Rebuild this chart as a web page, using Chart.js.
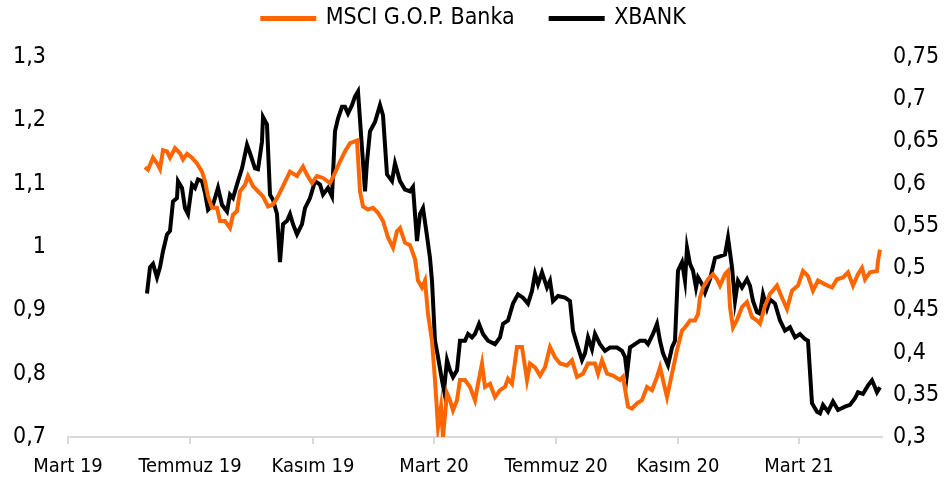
<!DOCTYPE html>
<html>
<head>
<meta charset="utf-8">
<script src="https://cdn.jsdelivr.net/npm/chart.js@4/dist/chart.umd.min.js"></script>
<style>
  html, body { margin: 0; padding: 0; background: #fff; }
  #wrap { width: 948px; height: 481px; }
</style>
</head>
<body>
<div id="wrap"><canvas id="bankChart"></canvas></div>
<script>
// x values are days counted from 1 March 2019
const tickDays = [0, 122, 245, 366, 488, 610, 731];
const tickLabels = ['Mart 19', 'Temmuz 19', 'Kasım 19', 'Mart 20', 'Temmuz 20', 'Kasım 20', 'Mart 21'];

const msciDays = [77, 80, 85, 89, 92, 95, 99, 102, 107, 112, 115, 119, 124, 129, 134, 137, 140, 144, 149, 152,
    157, 162, 165, 169, 172, 177, 180, 185, 190, 195, 200, 205, 210, 215, 222, 229, 235, 239, 244, 249,
    255, 262, 267, 272, 277, 282, 289, 292, 295, 300, 305, 310, 315, 320, 325, 329, 332, 337, 342, 347,
    350, 354, 357, 360, 364, 367, 370, 373, 375, 379, 382, 385, 389, 392, 397, 402, 407, 410, 414, 417,
    422, 427, 432, 437, 440, 444, 449, 454, 459, 462, 467, 472, 477, 482, 487, 492, 499, 504, 509, 515,
    520, 527, 530, 534, 539, 545, 552, 555, 560, 564, 569, 574, 579, 584, 589, 592, 595, 599, 604, 609,
    614, 617, 622, 627, 630, 632, 635, 640, 645, 649, 652, 657, 660, 662, 665, 669, 674, 679, 684, 689,
    692, 697, 702, 709, 714, 719, 724, 730, 735, 740, 745, 750, 757, 764, 769, 775, 780, 785, 790, 794,
    797, 802, 809, 810, 812];
const msciValues = [1.126, 1.122, 1.141, 1.132, 1.123, 1.153, 1.151, 1.141, 1.156, 1.148, 1.138, 1.147, 1.141, 1.132, 1.119, 1.104, 1.080, 1.062, 1.062, 1.041,
    1.041, 1.030, 1.051, 1.057, 1.088, 1.098, 1.112, 1.096, 1.088, 1.080, 1.064, 1.067, 1.080, 1.096, 1.119, 1.112, 1.127, 1.114, 1.101, 1.112,
    1.109, 1.101, 1.117, 1.135, 1.151, 1.164, 1.168, 1.088, 1.064, 1.059, 1.062, 1.054, 1.041, 1.015, 0.999, 1.025, 1.030, 1.007, 1.003, 0.981,
    0.947, 0.936, 0.947, 0.894, 0.852, 0.790, 0.716, 0.748, 0.700, 0.769, 0.758, 0.742, 0.758, 0.790, 0.790, 0.779, 0.758, 0.784, 0.816, 0.779,
    0.784, 0.763, 0.774, 0.779, 0.792, 0.784, 0.842, 0.842, 0.790, 0.816, 0.810, 0.797, 0.810, 0.842, 0.826, 0.816, 0.813, 0.821, 0.795, 0.800,
    0.816, 0.816, 0.800, 0.821, 0.800, 0.797, 0.790, 0.795, 0.748, 0.745, 0.753, 0.758, 0.779, 0.774, 0.795, 0.810, 0.790, 0.763, 0.800, 0.837,
    0.868, 0.873, 0.884, 0.884, 0.894, 0.920, 0.936, 0.949, 0.957, 0.949, 0.939, 0.957, 0.962, 0.905, 0.873, 0.885, 0.905, 0.913, 0.889, 0.884,
    0.879, 0.907, 0.926, 0.939, 0.920, 0.902, 0.931, 0.939, 0.962, 0.954, 0.931, 0.947, 0.941, 0.936, 0.949, 0.952, 0.960, 0.939, 0.957, 0.967,
    0.949, 0.960, 0.962, 0.978, 0.996];

const xbankDays = [79, 82, 85, 89, 92, 95, 99, 102, 105, 109, 110, 114, 117, 120, 124, 127, 130, 134, 137, 140,
    145, 150, 154, 159, 162, 165, 170, 174, 179, 182, 187, 190, 194, 195, 199, 202, 205, 209, 212, 215,
    219, 222, 225, 229, 234, 237, 242, 247, 252, 255, 260, 264, 267, 270, 274, 277, 280, 284, 287, 290,
    294, 297, 299, 302, 307, 312, 315, 319, 324, 327, 332, 337, 342, 345, 349, 352, 355, 359, 362, 364,
    367, 370, 374, 376, 379, 382, 385, 389, 392, 397, 400, 404, 407, 411, 415, 420, 427, 432, 435, 440,
    445, 450, 455, 460, 464, 467, 470, 474, 479, 482, 485, 490, 497, 502, 505, 510, 514, 517, 520, 524,
    527, 532, 537, 542, 549, 554, 557, 559, 562, 567, 572, 577, 580, 585, 589, 592, 595, 600, 604, 607,
    610, 614, 617, 619, 622, 625, 628, 630, 634, 637, 642, 647, 652, 657, 660, 664, 667, 670, 674, 679,
    682, 685, 689, 692, 695, 699, 702, 707, 712, 717, 722, 727, 732, 737, 740, 744, 749, 752, 755, 760,
    765, 770, 777, 782, 787, 790, 795, 800, 804, 807, 809, 812];
const xbankValues = [0.470, 0.501, 0.505, 0.489, 0.501, 0.520, 0.540, 0.544, 0.579, 0.583, 0.603, 0.595, 0.571, 0.564, 0.599, 0.595, 0.605, 0.603, 0.589, 0.569,
    0.575, 0.595, 0.575, 0.567, 0.587, 0.583, 0.603, 0.618, 0.646, 0.636, 0.618, 0.617, 0.650, 0.679, 0.670, 0.587, 0.581, 0.564, 0.507, 0.552,
    0.556, 0.564, 0.552, 0.540, 0.552, 0.571, 0.583, 0.603, 0.599, 0.587, 0.595, 0.585, 0.662, 0.677, 0.691, 0.691, 0.683, 0.693, 0.703, 0.709,
    0.642, 0.591, 0.626, 0.662, 0.673, 0.693, 0.681, 0.611, 0.603, 0.624, 0.603, 0.593, 0.591, 0.596, 0.532, 0.564, 0.571, 0.538, 0.512, 0.485,
    0.414, 0.395, 0.367, 0.355, 0.391, 0.379, 0.371, 0.379, 0.414, 0.414, 0.422, 0.418, 0.422, 0.434, 0.422, 0.414, 0.410, 0.418, 0.434, 0.438,
    0.458, 0.469, 0.465, 0.458, 0.473, 0.493, 0.481, 0.495, 0.477, 0.485, 0.461, 0.467, 0.465, 0.461, 0.426, 0.406, 0.391, 0.399, 0.418, 0.404,
    0.422, 0.410, 0.402, 0.406, 0.406, 0.402, 0.395, 0.375, 0.406, 0.410, 0.414, 0.414, 0.410, 0.422, 0.434, 0.414, 0.399, 0.385, 0.406, 0.414,
    0.497, 0.507, 0.485, 0.524, 0.505, 0.497, 0.477, 0.489, 0.481, 0.471, 0.487, 0.512, 0.514, 0.516, 0.536, 0.501, 0.461, 0.485, 0.477, 0.487,
    0.479, 0.461, 0.448, 0.446, 0.469, 0.452, 0.463, 0.458, 0.438, 0.426, 0.430, 0.418, 0.422, 0.416, 0.414, 0.340, 0.330, 0.328, 0.338, 0.330,
    0.342, 0.332, 0.336, 0.338, 0.346, 0.353, 0.351, 0.361, 0.367, 0.359, 0.353, 0.359];

const leftTicks = [0.7, 0.8, 0.9, 1, 1.1, 1.2, 1.3];
const rightTicks = [0.3, 0.35, 0.4, 0.45, 0.5, 0.55, 0.6, 0.65, 0.7, 0.75];

function toPoints(days, values) {
    return days.map((d, i) => ({ x: d, y: values[i] }));
}

function trNum(v) {
    return String(Math.round(v * 100) / 100).replace('.', ',');
}

// keep the wide gap between legend items but pull the legend up to the top edge
const legendLift = {
    id: 'legendLift',
    afterInit: function(chart) {
        const legend = chart.legend;
        const fit = legend.fit;
        legend.fit = function() {
            fit.call(this);
            this.height -= 12;
        };
    },
    afterLayout: function(chart) {
        chart.legend.top -= 29;
    }
};

function renderBankChart() {
    const ctx = document.getElementById('bankChart');
    const fontFamily = '"DejaVu Sans Condensed", "DejaVu Sans", sans-serif';

    new Chart(ctx, {
        type: 'line',
        data: {
            datasets: [{
                label: 'MSCI G.O.P. Banka',
                data: toPoints(msciDays, msciValues),
                borderColor: '#FF6600',
                backgroundColor: '#FF6600',
                borderWidth: 4,
                pointRadius: 0,
                tension: 0,
                yAxisID: 'y'
            }, {
                label: 'XBANK',
                data: toPoints(xbankDays, xbankValues),
                borderColor: '#000000',
                backgroundColor: '#000000',
                borderWidth: 4,
                pointRadius: 0,
                tension: 0,
                yAxisID: 'y1'
            }]
        },
        plugins: [legendLift],
        options: {
            responsive: true,
            maintainAspectRatio: false,
            animation: false,
            layout: {
                padding: 0
            },
            plugins: {
                legend: {
                    position: 'top',
                    labels: {
                        boxWidth: 52,
                        boxHeight: 1,
                        padding: 36,
                        color: '#000',
                        font: { family: fontFamily, size: 23 }
                    }
                },
                tooltip: { enabled: false }
            },
            scales: {
                x: {
                    type: 'linear',
                    min: 0,
                    max: 814,
                    afterBuildTicks: function(scale) {
                        scale.ticks = tickDays.map(v => ({ value: v }));
                    },
                    afterFit: function(scale) {
                        scale.height = 44;
                    },
                    ticks: {
                        autoSkip: false,
                        maxRotation: 0,
                        padding: 11,
                        color: '#000',
                        font: { family: fontFamily, size: 20 },
                        callback: function(value) {
                            const i = tickDays.indexOf(value);
                            return i >= 0 ? tickLabels[i] : '';
                        }
                    },
                    grid: {
                        display: true,
                        drawOnChartArea: false,
                        drawTicks: true,
                        tickLength: 7,
                        color: '#d9d9d9',
                        lineWidth: 2
                    },
                    border: { display: true, color: '#d9d9d9', width: 2 }
                },
                y: {
                    position: 'left',
                    min: 0.7,
                    max: 1.3,
                    afterBuildTicks: function(scale) {
                        scale.ticks = leftTicks.map(v => ({ value: v }));
                    },
                    afterFit: function(scale) {
                        scale.width = 68;
                    },
                    ticks: {
                        padding: 22,
                        color: '#000',
                        font: { family: fontFamily, size: 23 },
                        callback: trNum
                    },
                    grid: { display: false, drawTicks: false },
                    border: { display: false }
                },
                y1: {
                    position: 'right',
                    min: 0.3,
                    max: 0.75,
                    afterBuildTicks: function(scale) {
                        scale.ticks = rightTicks.map(v => ({ value: v }));
                    },
                    afterFit: function(scale) {
                        scale.width = 66;
                    },
                    ticks: {
                        padding: 11,
                        color: '#000',
                        font: { family: fontFamily, size: 23 },
                        callback: trNum
                    },
                    grid: { display: false, drawTicks: false },
                    border: { display: false }
                }
            }
        }
    });
}

renderBankChart();
</script>
</body>
</html>
